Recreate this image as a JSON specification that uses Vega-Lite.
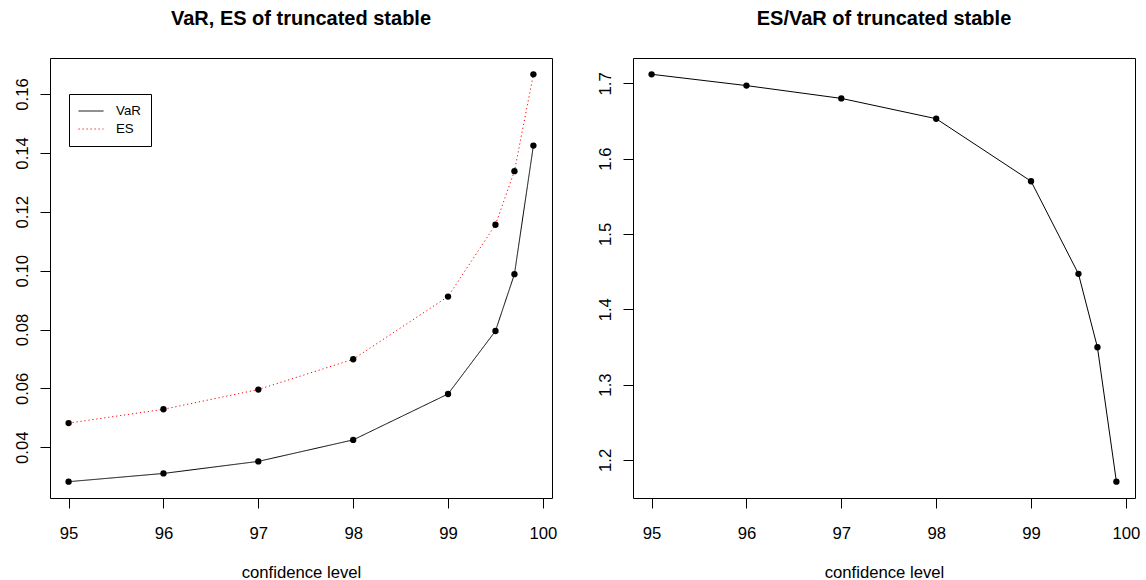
{
  "$schema": "https://vega.github.io/schema/vega-lite/v6.json",
  "background": "white",
  "padding": {"left": 13, "top": 8, "right": 5, "bottom": 0},
  "datasets": {
    "risk": [
      {"cl": 95, "series": "VaR", "value": 0.0283},
      {"cl": 96, "series": "VaR", "value": 0.0311},
      {"cl": 97, "series": "VaR", "value": 0.0352},
      {"cl": 98, "series": "VaR", "value": 0.0425},
      {"cl": 99, "series": "VaR", "value": 0.0581},
      {"cl": 99.5, "series": "VaR", "value": 0.0795},
      {"cl": 99.7, "series": "VaR", "value": 0.0988},
      {"cl": 99.9, "series": "VaR", "value": 0.1425},
      {"cl": 95, "series": "ES", "value": 0.0482},
      {"cl": 96, "series": "ES", "value": 0.0529},
      {"cl": 97, "series": "ES", "value": 0.0596},
      {"cl": 98, "series": "ES", "value": 0.0699},
      {"cl": 99, "series": "ES", "value": 0.0912},
      {"cl": 99.5, "series": "ES", "value": 0.1156},
      {"cl": 99.7, "series": "ES", "value": 0.1338},
      {"cl": 99.9, "series": "ES", "value": 0.1667}
    ],
    "ratio": [
      {"cl": 95, "ratio": 1.712},
      {"cl": 96, "ratio": 1.697},
      {"cl": 97, "ratio": 1.680},
      {"cl": 98, "ratio": 1.653},
      {"cl": 99, "ratio": 1.570},
      {"cl": 99.5, "ratio": 1.447},
      {"cl": 99.7, "ratio": 1.3495},
      {"cl": 99.9, "ratio": 1.171}
    ]
  },
  "config": {
    "font": "Liberation Sans",
    "view": {"stroke": "black", "strokeWidth": 1},
    "axis": {
      "domain": false, "grid": false,
      "tickColor": "black", "tickSize": 10, "tickWidth": 1,
      "labelFont": "Liberation Sans", "labelFontSize": 16.7, "labelColor": "black",
      "titleFont": "Liberation Sans", "titleFontSize": 16.7, "titleFontWeight": "normal", "titleColor": "black"
    },
    "axisX": {"labelPadding": 17, "titlePadding": 23, "labelFlush": false, "labelOverlap": false},
    "axisY": {"labelAngle": -90, "labelAlign": "center", "labelBaseline": "alphabetic", "labelPadding": 13, "labelOverlap": false},
    "title": {"font": "Liberation Sans", "fontSize": 20, "fontWeight": "bold", "color": "black", "anchor": "middle", "frame": "group", "offset": 29}
  },
  "bounds": "flush",
  "spacing": 81,
  "hconcat": [
    {
      "title": "VaR, ES of truncated stable",
      "width": 502,
      "height": 440,
      "data": {"name": "risk"},
      "encoding": {
        "x": {"field": "cl", "type": "quantitative",
          "scale": {"domain": [94.804, 100.096], "nice": false, "zero": false},
          "axis": {"values": [95, 96, 97, 98, 99, 100], "format": "d", "title": "confidence level"}},
        "y": {"field": "value", "type": "quantitative",
          "scale": {"domain": [0.02276, 0.17224], "nice": false, "zero": false},
          "axis": {"values": [0.04, 0.06, 0.08, 0.10, 0.12, 0.14, 0.16], "format": ".2f", "title": null}}
      },
      "layer": [
        {
          "mark": {"type": "line", "strokeWidth": 1},
          "encoding": {
            "color": {"field": "series", "type": "nominal",
              "scale": {"domain": ["VaR", "ES"], "range": ["black", "red"]},
              "legend": {"title": null, "orient": "none", "legendX": 19, "legendY": 36,
                "strokeColor": "black", "fillColor": "white", "padding": 10,
                "symbolType": "M-2,0L2,0", "symbolSize": 156, "symbolStrokeWidth": 1, "symbolOffset": 5,
                "labelFont": "Liberation Sans", "labelFontSize": 13.3, "labelColor": "black",
                "labelOffset": 18, "rowPadding": 4}},
            "strokeDash": {"field": "series", "type": "nominal",
              "scale": {"domain": ["VaR", "ES"], "range": [[1, 0], [1.2, 2.8]]},
              "legend": {"title": null, "orient": "none", "legendX": 19, "legendY": 36,
                "strokeColor": "black", "fillColor": "white", "padding": 10,
                "symbolType": "M-2,0L2,0", "symbolSize": 156, "symbolStrokeWidth": 1, "symbolOffset": 5,
                "labelFont": "Liberation Sans", "labelFontSize": 13.3, "labelColor": "black",
                "labelOffset": 18, "rowPadding": 4}}
          }
        },
        {
          "mark": {"type": "circle", "size": 40, "color": "black", "opacity": 1},
          "encoding": {"detail": {"field": "series", "type": "nominal"}}
        }
      ]
    },
    {
      "title": "ES/VaR of truncated stable",
      "width": 502,
      "height": 440,
      "data": {"name": "ratio"},
      "encoding": {
        "x": {"field": "cl", "type": "quantitative",
          "scale": {"domain": [94.804, 100.096], "nice": false, "zero": false},
          "axis": {"values": [95, 96, 97, 98, 99, 100], "format": "d", "title": "confidence level"}},
        "y": {"field": "ratio", "type": "quantitative",
          "scale": {"domain": [1.14936, 1.73364], "nice": false, "zero": false},
          "axis": {"values": [1.2, 1.3, 1.4, 1.5, 1.6, 1.7], "format": ".1f", "title": null}}
      },
      "layer": [
        {"mark": {"type": "line", "strokeWidth": 1, "color": "black"}, "encoding": {}},
        {"mark": {"type": "circle", "size": 40, "color": "black", "opacity": 1}, "encoding": {}}
      ]
    }
  ]
}
